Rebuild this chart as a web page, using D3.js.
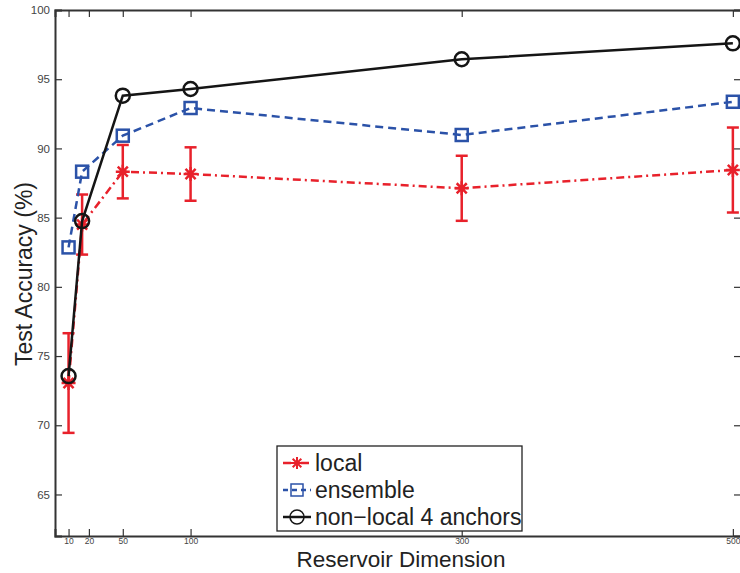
<!DOCTYPE html>
<html>
<head>
<meta charset="utf-8">
<script src="https://cdn.jsdelivr.net/npm/d3@7"></script>
<style>
  body { margin: 0; background: #fff; }
  svg { font-family: "Liberation Sans", Arial, sans-serif; }
</style>
</head>
<body>
<script>
// data
const dims = [10, 20, 50, 100, 300, 500];
const localAcc = [73.05, 84.5, 88.32, 88.15, 87.12, 88.44];
const localErr = [3.6, 2.17, 1.93, 1.93, 2.35, 3.07];
const ensembleAcc = [82.85, 88.32, 90.92, 92.92, 90.97, 93.37];
const nonLocalAcc = [73.55, 84.75, 93.81, 94.29, 96.44, 97.59];

// tick positions and their printed labels (the "20" tick sits at 25 in the source)
const xTickPos = [10, 25, 50, 100, 300, 500];
const xTickLabels = ["10", "20", "50", "100", "300", "500"];
const yTicks = [65, 70, 75, 80, 85, 90, 95, 100];

const width = 740, height = 573;
const margin = {top: 10, right: -1, bottom: 37, left: 55};

const svg = d3.select("body").append("svg")
    .attr("width", width)
    .attr("height", height);

const x = d3.scaleLinear().domain([0, 506]).range([margin.left, width - margin.right]);
const y = d3.scaleLinear().domain([62, 100]).range([height - margin.bottom, margin.top]);

const red = "#e8212b", blue = "#2b52a8", black = "#151515", axisCol = "#333";

// axes (ticks pointing inward, mirrored top/right like matlab)
const xAxis = svg.append("g")
    .attr("transform", "translate(0," + y.range()[0] + ")")
    .call(d3.axisBottom(x).tickValues(xTickPos).tickSize(-7).tickPadding(2)
        .tickFormat((d, i) => xTickLabels[i]));
const xTop = svg.append("g")
    .attr("transform", "translate(0," + y.range()[1] + ")")
    .call(d3.axisTop(x).tickValues(xTickPos).tickSize(-7).tickFormat(""));
const yAxis = svg.append("g")
    .attr("transform", "translate(" + x.range()[0] + ",0)")
    .call(d3.axisLeft(y).tickValues(yTicks).tickSize(-7).tickPadding(5));
const yRight = svg.append("g")
    .attr("transform", "translate(" + x.range()[1] + ",0)")
    .call(d3.axisRight(y).tickValues(yTicks).tickSize(-7).tickFormat(""));

[xAxis, xTop, yAxis, yRight].forEach(g => {
  g.select(".domain").attr("stroke", axisCol).attr("stroke-width", 2);
  g.selectAll(".tick line").attr("stroke", axisCol).attr("stroke-width", 1.2);
  g.selectAll(".tick text").attr("fill", "#444");
});
xAxis.selectAll(".tick text").style("font-size", "8.5px");
yAxis.selectAll(".tick text").style("font-size", "11.5px");

// axis titles
svg.append("text")
    .attr("x", 401).attr("y", 567)
    .attr("text-anchor", "middle")
    .style("font-size", "22.5px").attr("fill", "#222")
    .text("Reservoir Dimension");
svg.append("text")
    .attr("transform", "translate(32,274) rotate(-90)")
    .attr("text-anchor", "middle")
    .style("font-size", "23px").attr("fill", "#222")
    .text("Test Accuracy (%)");

const line = d3.line().x(d => x(d[0])).y(d => y(d[1]));

// local: error bars + dash-dot line + asterisks
const localData = dims.map((d, i) => [d, localAcc[i], localErr[i]]);
const err = svg.append("g").attr("stroke", red).attr("stroke-width", 2.5);
localData.forEach(d => {
  const cx = x(d[0]), top = y(d[1] + d[2]), bot = y(d[1] - d[2]);
  err.append("line").attr("x1", cx).attr("x2", cx).attr("y1", top).attr("y2", bot);
  err.append("line").attr("x1", cx - 6).attr("x2", cx + 6).attr("y1", top).attr("y2", top);
  err.append("line").attr("x1", cx - 6).attr("x2", cx + 6).attr("y1", bot).attr("y2", bot);
});
svg.append("path")
    .datum(localData)
    .attr("d", line)
    .attr("fill", "none").attr("stroke", red).attr("stroke-width", 2.5)
    .attr("stroke-dasharray", "8,4,2,4");

function starPath(r) {
  const k = r * 0.72;
  return "M" + (-r) + ",0L" + r + ",0M0," + (-r) + "L0," + r +
         "M" + (-k) + "," + (-k) + "L" + k + "," + k +
         "M" + (-k) + "," + k + "L" + k + "," + (-k);
}
svg.append("g").selectAll("path")
    .data(localData)
    .join("path")
    .attr("transform", d => "translate(" + x(d[0]) + "," + y(d[1]) + ")")
    .attr("d", starPath(7))
    .attr("fill", "none").attr("stroke", red).attr("stroke-width", 2.5);

// ensemble: dashed line + squares
const ensData = dims.map((d, i) => [d, ensembleAcc[i]]);
svg.append("path")
    .datum(ensData)
    .attr("d", line)
    .attr("fill", "none").attr("stroke", blue).attr("stroke-width", 2.5)
    .attr("stroke-dasharray", "8,5");
svg.append("g").selectAll("rect")
    .data(ensData)
    .join("rect")
    .attr("x", d => x(d[0]) - 6).attr("y", d => y(d[1]) - 6)
    .attr("width", 12).attr("height", 12)
    .attr("fill", "none").attr("stroke", blue).attr("stroke-width", 2.5);

// non-local: solid line + circles
const nlData = dims.map((d, i) => [d, nonLocalAcc[i]]);
svg.append("path")
    .datum(nlData)
    .attr("d", line)
    .attr("fill", "none").attr("stroke", black).attr("stroke-width", 2.5);
svg.append("g").selectAll("circle")
    .data(nlData)
    .join("circle")
    .attr("cx", d => x(d[0])).attr("cy", d => y(d[1]))
    .attr("r", 7)
    .attr("fill", "none").attr("stroke", black).attr("stroke-width", 2.5);

// legend
const legend = svg.append("g");
legend.append("rect")
    .attr("x", 277).attr("y", 446).attr("width", 245).attr("height", 85)
    .attr("fill", "#fff").attr("stroke", "#222").attr("stroke-width", 1.3);

const legendItems = [
  {name: "local", color: red, dash: "8,4,2,4", marker: "star"},
  {name: "ensemble", color: blue, dash: "5,4", marker: "square"},
  {name: "non\u2212local 4 anchors", color: black, dash: null, marker: "circle"}
];
legendItems.forEach((it, i) => {
  const ly = 463 + i * 27;
  const row = legend.append("g");
  row.append("line")
      .attr("x1", 283).attr("x2", 311).attr("y1", ly).attr("y2", ly)
      .attr("stroke", it.color).attr("stroke-width", 2.5)
      .attr("stroke-dasharray", it.dash);
  if (it.marker === "star") {
    row.append("path").attr("transform", "translate(297," + ly + ")")
        .attr("d", starPath(6)).attr("fill", "none")
        .attr("stroke", it.color).attr("stroke-width", 2);
  } else if (it.marker === "square") {
    row.append("rect").attr("x", 291).attr("y", ly - 6).attr("width", 12).attr("height", 12)
        .attr("fill", "none").attr("stroke", it.color).attr("stroke-width", 1.5);
  } else {
    row.append("circle").attr("cx", 297).attr("cy", ly).attr("r", 7)
        .attr("fill", "none").attr("stroke", it.color).attr("stroke-width", 1.5);
  }
  row.append("text")
      .attr("x", 315).attr("y", ly + 8)
      .style("font-size", "23px").attr("fill", "#222")
      .text(it.name);
});
</script>
</body>
</html>
